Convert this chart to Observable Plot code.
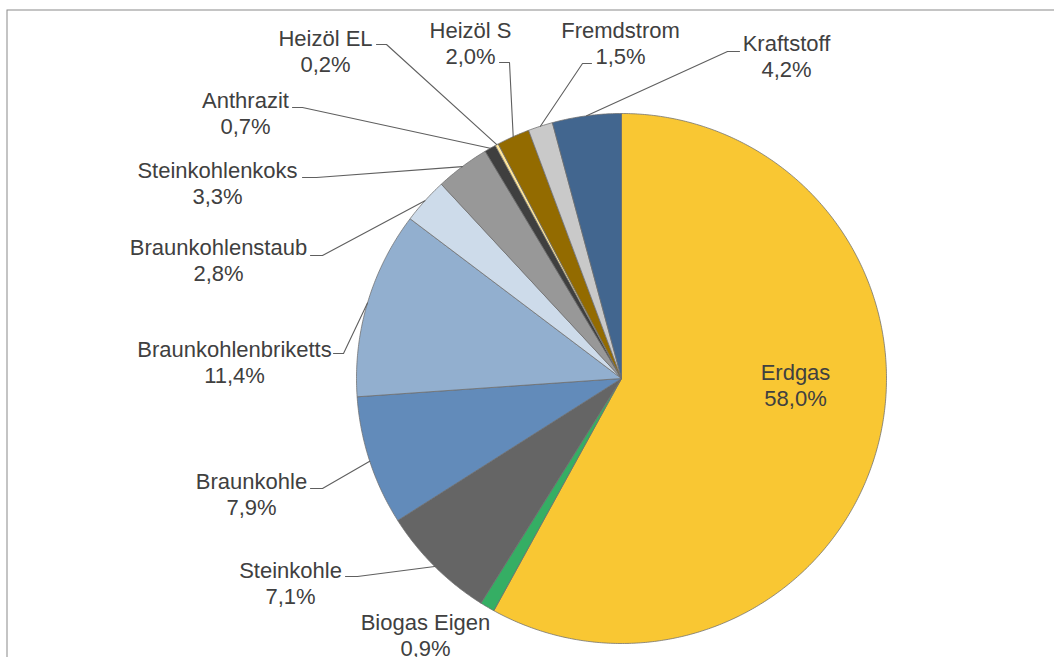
<!DOCTYPE html>
<html>
<head>
<meta charset="utf-8">
<script src="https://cdn.jsdelivr.net/npm/d3@7"></script>
<script src="https://cdn.jsdelivr.net/npm/@observablehq/plot@0.6"></script>
<style>
  html, body { margin: 0; padding: 0; background: #fff; }
  svg { display: block; }
</style>
</head>
<body>
<div id="chart"></div>
<script>
// ---- data ----
const categories = ["Erdgas", "Biogas Eigen", "Steinkohle", "Braunkohle", "Braunkohlenbriketts",
  "Braunkohlenstaub", "Steinkohlenkoks", "Anthrazit", "Heizöl EL", "Heizöl S", "Fremdstrom", "Kraftstoff"];
const shares = [58.0, 0.9, 7.1, 7.9, 11.4, 2.8, 3.3, 0.7, 0.2, 2.0, 1.5, 4.2];
const colors = ["#F9C733", "#35AE64", "#656565", "#628BBA", "#92AFCF", "#CDDBEA",
  "#989898", "#3F3F3F", "#FFE699", "#936B00", "#C9C9C9", "#42668F"];

// ---- layout (pixels) ----
const W = 1054, H = 657, CX = 621, CY = 378, R = 265;
// label layout: [textX, firstLineY, segStartX, elbowX, elbowY] (null seg => no leader)
const labelLayout = [
  [795, 372, null, null, null],
  [425, 622, null, null, null],
  [290, 570, 345, 357, 576],
  [251, 481, 310, 322, 488],
  [234, 349, 333, 343, 353],
  [218, 247, 310, 322, 255],
  [217, 170, 302, 316, 177],
  [245, 100, 292, 302, 107],
  [325, 38, 376, 386, 44],
  [470, 30, 499, 509, 62],
  [620, 30, 591, 582, 63],
  [786, 43, 739, 727, 51]
];

const ux = px => (px - CX) / R;
const uy = py => (CY - py) / R;
const fmt = d3.formatLocale({decimal: ",", thousands: ".", grouping: [3], currency: ["", "€"]}).format(".1f");

const rows = categories.map((name, i) => ({name, value: shares[i], color: colors[i]}));
const arcs = d3.pie().sort(null).value(d => d.value)(rows);

// slice polygons
const slicePts = [];
arcs.forEach(a => {
  const name = a.data.name;
  slicePts.push({name, x: 0, y: 0});
  const n = Math.max(2, Math.ceil((a.endAngle - a.startAngle) / (Math.PI / 360)));
  for (let k = 0; k <= n; k++) {
    const t = a.startAngle + (a.endAngle - a.startAngle) * k / n;
    slicePts.push({name, x: Math.sin(t), y: Math.cos(t)});
  }
  slicePts.push({name, x: 0, y: 0});
});

// leader lines
const leaderPts = [];
arcs.forEach((a, i) => {
  const L = labelLayout[i];
  if (L[2] == null) return;
  const m = (a.startAngle + a.endAngle) / 2;
  const name = a.data.name;
  leaderPts.push({name, x: ux(L[2]), y: uy(L[4])});
  leaderPts.push({name, x: ux(L[3]), y: uy(L[4])});
  leaderPts.push({name, x: Math.sin(m), y: Math.cos(m)});
});

const labels = arcs.map((a, i) => ({
  name: a.data.name,
  pct: fmt(a.data.value) + "%",
  x: ux(labelLayout[i][0]),
  y: uy(labelLayout[i][1])
}));

const font = "'Liberation Sans', Arial, sans-serif";

const chart = Plot.plot({
  width: W,
  height: H,
  margin: 0,
  x: {domain: [ux(0), ux(W)], axis: null},
  y: {domain: [uy(H), uy(0)], axis: null},
  color: {domain: categories, range: colors},
  style: {fontFamily: font, background: "#fff", overflow: "visible"},
  marks: [
    Plot.frame({stroke: "#8a8a8a", strokeWidth: 1, insetLeft: 6.5, insetTop: 9.5, insetRight: -20, insetBottom: -20}),
    Plot.line(slicePts, {x: "x", y: "y", z: "name", fill: "name", stroke: "#6e6e6e", strokeWidth: 0.75, strokeLinejoin: "round"}),
    Plot.line(leaderPts, {x: "x", y: "y", z: "name", stroke: "#5f5f5f", strokeWidth: 1.1}),
    Plot.text(labels, {x: "x", y: "y", text: "name", fill: "#404040", fontSize: 22, textAnchor: "middle"}),
    Plot.text(labels, {x: "x", y: "y", text: "pct", dy: 26, fill: "#404040", fontSize: 22, textAnchor: "middle"})
  ]
});
document.getElementById("chart").appendChild(chart);
</script>
</body>
</html>
